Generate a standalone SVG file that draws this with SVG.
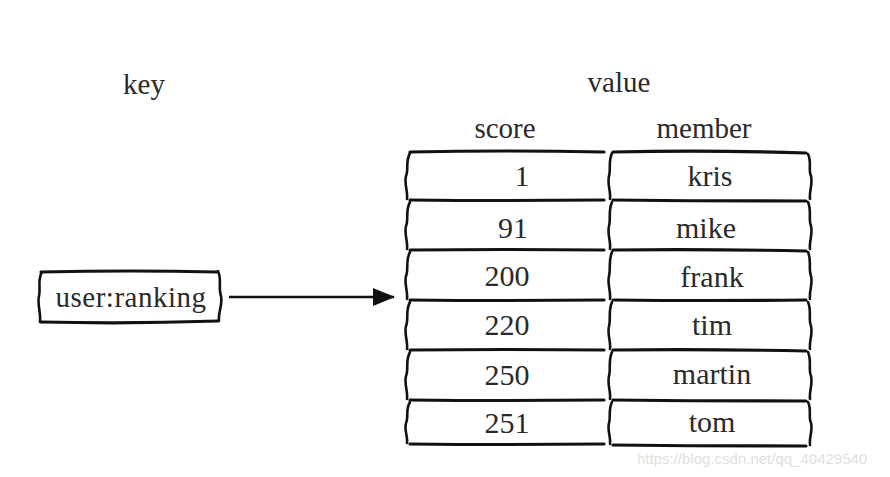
<svg xmlns="http://www.w3.org/2000/svg" width="890" height="477" viewBox="0 0 890 477">
  <style>
    .t { font-family: "Liberation Serif", "Times New Roman", serif; fill: #2a2a2a; text-anchor: middle; }
    .h { font-size: 29px; }
    .c { font-size: 30px; }
    .k { font-size: 29px; letter-spacing: 0.5px; }
    .hl { fill: none; stroke: #111; stroke-width: 3.2; stroke-linecap: round; }
    .vl { fill: none; stroke: #111; stroke-width: 2.6; stroke-linecap: round; }
    .wm { font-family: "Liberation Sans", Arial, sans-serif; font-size: 15px; fill: #e0e0e0; }
  </style>
  <defs>
    <marker id="arr" markerWidth="22" markerHeight="18" refX="21" refY="9" orient="auto" markerUnits="userSpaceOnUse" viewBox="0 0 22 18">
      <path d="M0,0 L22,9 L0,18 z" fill="#111"/>
    </marker>
  </defs>
  <rect width="890" height="477" fill="#fff"/>

  <g id="label-key"><text class="t h" x="144" y="94">key</text></g>
  <g id="label-value"><text class="t h" x="619" y="92">value</text></g>
  <g id="label-score"><text class="t h" x="505" y="138">score</text></g>
  <g id="label-member"><text class="t h" x="704" y="138">member</text></g>

  <g id="node-key">
    <path class="hl" d="M41,272 Q130,270 217,272"/>
    <path class="hl" d="M41,322 Q130,324 218,321"/>
    <path class="vl" d="M42,272 C37,280 41,287 39,296 C37,304 41,312 40,322"/>
    <path class="vl" d="M218,271 C222,279 218,287 221,296 C223,304 218,312 219,321"/>
    <text class="t k" x="131" y="307">user:ranking</text>
  </g>

  <g id="connectors">
    <line x1="229" y1="297" x2="394" y2="297" stroke="#111" stroke-width="2.5" marker-end="url(#arr)"/>
  </g>

  <g id="node-value-table">
    <path class="hl" d="M410,152 Q505,150 604,152"/>
    <path class="hl" d="M613,152 Q710,150 806,153"/>
    <path class="hl" d="M410,200 Q505,201 604,200"/>
    <path class="hl" d="M613,200 Q710,201 806,201"/>
    <path class="hl" d="M410,250 Q505,249 604,250"/>
    <path class="hl" d="M613,250 Q710,249 806,251"/>
    <path class="hl" d="M410,300 Q505,301 604,300"/>
    <path class="hl" d="M613,300 Q710,301 806,300"/>
    <path class="hl" d="M410,350 Q505,349 604,350"/>
    <path class="hl" d="M613,350 Q710,349 806,351"/>
    <path class="hl" d="M410,400 Q505,401 604,400"/>
    <path class="hl" d="M613,400 Q710,401 806,401"/>
    <path class="hl" d="M410,444 Q505,445 604,444"/>
    <path class="hl" d="M613,445 Q710,446 806,446"/>

    <g id="row-1">
      <path class="vl" d="M410,153 C405,162 409,170 406,176 C404,184 408,191 407,199"/>
      <path class="vl" d="M612,153 C608,162 611,170 609,176 C607,184 611,191 610,199"/>
      <path class="vl" d="M808,154 C812,162 808,170 811,176 C813,184 809,191 810,199"/>
      <text class="t c" x="522" y="186">1</text>
      <text class="t c" x="710" y="186">kris</text>
    </g>
    <g id="row-2">
      <path class="vl" d="M410,202 C405,211 409,219 406,226 C404,234 408,241 407,249"/>
      <path class="vl" d="M612,202 C608,211 611,219 609,226 C607,234 611,241 610,249"/>
      <path class="vl" d="M808,202 C812,211 808,219 811,226 C813,234 809,241 810,249"/>
      <text class="t c" x="513" y="238">91</text>
      <text class="t c" x="706" y="238">mike</text>
    </g>
    <g id="row-3">
      <path class="vl" d="M410,252 C405,261 409,269 406,276 C404,284 408,291 407,299"/>
      <path class="vl" d="M612,252 C608,261 611,269 609,276 C607,284 611,291 610,299"/>
      <path class="vl" d="M808,252 C812,261 808,269 811,276 C813,284 809,291 810,299"/>
      <text class="t c" x="507" y="286">200</text>
      <text class="t c" x="712" y="287">frank</text>
    </g>
    <g id="row-4">
      <path class="vl" d="M410,302 C405,311 409,319 406,326 C404,334 408,341 407,349"/>
      <path class="vl" d="M612,302 C608,311 611,319 609,326 C607,334 611,341 610,349"/>
      <path class="vl" d="M808,302 C812,311 808,319 811,326 C813,334 809,341 810,349"/>
      <text class="t c" x="507" y="335">220</text>
      <text class="t c" x="712" y="335">tim</text>
    </g>
    <g id="row-5">
      <path class="vl" d="M410,352 C405,361 409,369 406,376 C404,384 408,391 407,399"/>
      <path class="vl" d="M612,352 C608,361 611,369 609,376 C607,384 611,391 610,399"/>
      <path class="vl" d="M808,352 C812,361 808,369 811,376 C813,384 809,391 810,399"/>
      <text class="t c" x="507" y="385">250</text>
      <text class="t c" x="712" y="384">martin</text>
    </g>
    <g id="row-6">
      <path class="vl" d="M410,402 C405,410 409,417 406,423 C404,430 408,437 407,443"/>
      <path class="vl" d="M612,402 C608,410 611,417 609,423 C607,430 611,437 610,444"/>
      <path class="vl" d="M808,402 C812,410 808,417 811,423 C813,430 809,437 810,445"/>
      <text class="t c" x="507" y="433">251</text>
      <text class="t c" x="712" y="432">tom</text>
    </g>
  </g>

  <text class="wm" x="637" y="464">https://blog.csdn.net/qq_40429540</text>
</svg>
